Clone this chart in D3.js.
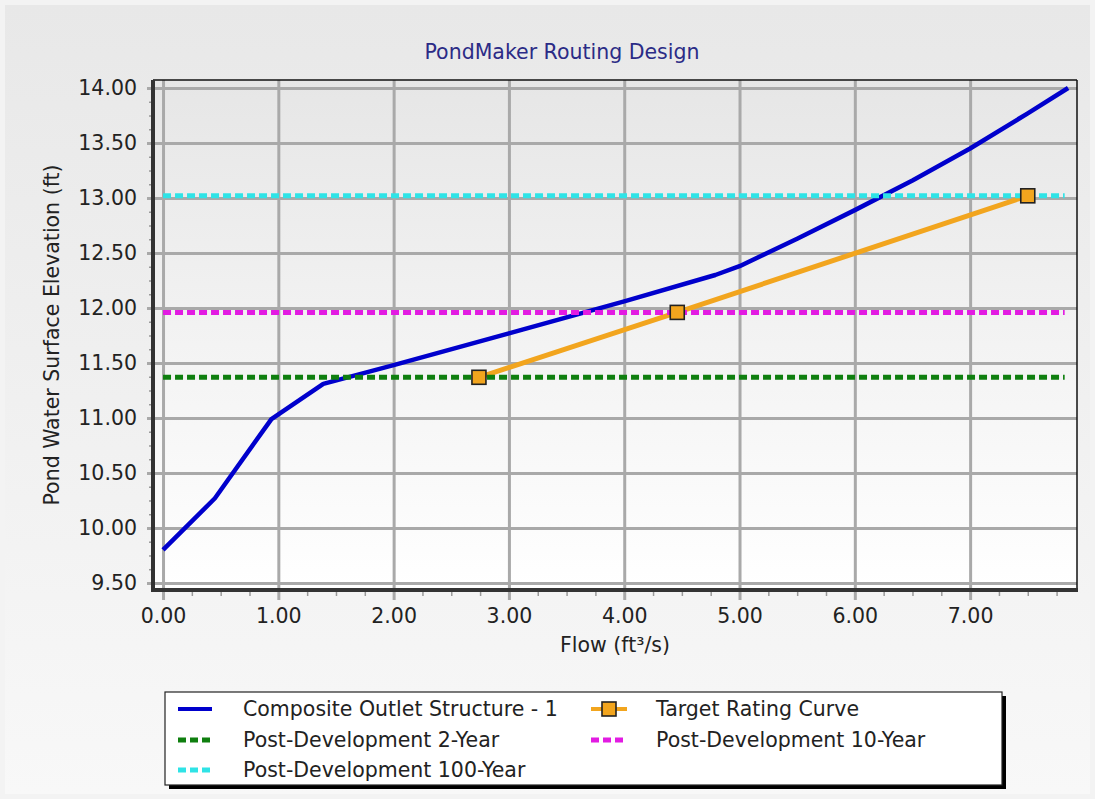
<!DOCTYPE html>
<html>
<head>
<meta charset="utf-8">
<script src="https://cdn.jsdelivr.net/npm/d3@7"></script>
<style>
  body { margin: 0; background: #f0f0f0; }
  svg text { font-family: "DejaVu Sans", Verdana, sans-serif; fill: #222; }
</style>
</head>
<body>
<svg id="chart" width="1095" height="799"></svg>
<script>
// Composite Outlet Structure - 1 (flow vs pond water surface elevation)
const compositeQ = [0.00, 0.45, 0.94, 1.39, 2.00, 3.00, 4.00, 4.79, 5.00, 5.50, 6.00, 6.50, 7.00, 7.50, 7.85];
const compositeWSE = [9.80, 10.27, 10.99, 11.31, 11.48, 11.77, 12.06, 12.30, 12.38, 12.63, 12.89, 13.16, 13.45, 13.77, 14.00];

// Target Rating Curve
const targetQ = [2.74, 4.46, 7.50];
const targetWSE = [11.37, 11.96, 13.02];

// Post-development design storm elevations
const stormNames = ['Post-Development 2-Year', 'Post-Development 10-Year', 'Post-Development 100-Year'];
const stormWSE = [11.37, 11.96, 13.02];
const stormQExtent = [0, 7.82];

// axis ticks
const xTicks = [0, 1, 2, 3, 4, 5, 6, 7];
const yTicks = [9.5, 10, 10.5, 11, 11.5, 12, 12.5, 13, 13.5, 14];

const svg = d3.select('#chart');
const W = 1095, H = 799;
const plot = { left: 153, right: 1077, top: 80, bottom: 590 };
const fontSize = '20.5px';

const palette = {
  composite: '#0000cc',
  target: '#f2a51e',
  storms: ['#0f7f0f', '#e21be2', '#2fe3e6'],
  grid: '#a9a9a9',
};

const x = d3.scaleLinear().domain([-0.087, 7.927]).range([plot.left, plot.right]);
const y = d3.scaleLinear().domain([9.436, 14.073]).range([plot.bottom, plot.top]);

// backgrounds
const defs = svg.append('defs');
const bg = defs.append('linearGradient').attr('id', 'bg').attr('x1', 0).attr('y1', 0).attr('x2', 0).attr('y2', 1);
bg.append('stop').attr('offset', 0).attr('stop-color', '#e8e8e8');
bg.append('stop').attr('offset', 1).attr('stop-color', '#f8f8f8');
const pbg = defs.append('linearGradient').attr('id', 'pbg').attr('x1', 0).attr('y1', 0).attr('x2', 0).attr('y2', 1);
pbg.append('stop').attr('offset', 0).attr('stop-color', '#e6e6e6');
pbg.append('stop').attr('offset', 1).attr('stop-color', '#ffffff');
defs.append('clipPath').attr('id', 'clip').append('rect')
  .attr('x', plot.left).attr('y', plot.top)
  .attr('width', plot.right - plot.left).attr('height', plot.bottom - plot.top);

svg.append('rect').attr('width', W).attr('height', H).attr('fill', '#f3f3f3');
svg.append('rect').attr('x', 5).attr('y', 5).attr('width', W - 10).attr('height', H - 10).attr('fill', 'url(#bg)');
svg.append('rect')
  .attr('x', plot.left).attr('y', plot.top)
  .attr('width', plot.right - plot.left).attr('height', plot.bottom - plot.top)
  .attr('fill', 'url(#pbg)');

// title
svg.append('text')
  .attr('x', 562).attr('y', 59)
  .attr('text-anchor', 'middle')
  .style('font-size', fontSize)
  .style('fill', '#2b2b86')
  .text('PondMaker Routing Design');

// grid + labels via axes
const fmt = d3.format('.2f');
const yAxis = d3.axisLeft(y).tickValues(yTicks).tickFormat(fmt)
  .tickSize(-(plot.right - 147)).tickPadding(10);
const gy = svg.append('g').attr('transform', 'translate(147,0)').call(yAxis);
const xAxis = d3.axisBottom(x).tickValues(xTicks).tickFormat(fmt)
  .tickSize(-(600 - plot.top)).tickPadding(8);
const gx = svg.append('g').attr('transform', 'translate(0,600)').call(xAxis);
[gx, gy].forEach((g) => {
  g.select('.domain').remove();
  g.selectAll('.tick line').attr('stroke', palette.grid).attr('stroke-width', 3);
  g.selectAll('.tick text').style('font-size', fontSize).attr('fill', '#222');
});

// minor ticks
const xMinor = d3.range(0, 7.9, 0.25).filter(v => !xTicks.includes(v));
const yMinor = d3.range(9.5, 14.01, 0.125).filter(v => !yTicks.includes(v));
svg.append('g').attr('transform', `translate(0,${plot.bottom})`)
  .call(d3.axisBottom(x).tickValues(xMinor).tickFormat('').tickSize(6))
  .call(g => g.select('.domain').remove())
  .selectAll('line').attr('stroke', '#999').attr('stroke-width', 1.5);
svg.append('g').attr('transform', `translate(${plot.left},0)`)
  .call(d3.axisLeft(y).tickValues(yMinor).tickFormat('').tickSize(4))
  .call(g => g.select('.domain').remove())
  .selectAll('line').attr('stroke', '#999').attr('stroke-width', 1.5);

// axis titles
svg.append('text')
  .attr('x', (plot.left + plot.right) / 2).attr('y', 652)
  .attr('text-anchor', 'middle').style('font-size', fontSize)
  .text('Flow (ft³/s)');
svg.append('text')
  .attr('transform', `translate(59,${(plot.top + plot.bottom) / 2}) rotate(-90)`)
  .attr('text-anchor', 'middle').style('font-size', fontSize)
  .text('Pond Water Surface Elevation (ft)');

// series
const series = svg.append('g').attr('clip-path', 'url(#clip)');
const line = d3.line().x(d => x(d[0])).y(d => y(d[1]));

series.append('path')
  .datum(compositeQ.map((q, i) => [q, compositeWSE[i]]))
  .attr('d', line).attr('fill', 'none')
  .attr('stroke', palette.composite).attr('stroke-width', 4.5).attr('stroke-linejoin', 'round');

series.append('path')
  .datum(targetQ.map((q, i) => [q, targetWSE[i]]))
  .attr('d', line).attr('fill', 'none')
  .attr('stroke', palette.target).attr('stroke-width', 5);

series.selectAll('line.storm')
  .data(stormWSE)
  .enter().append('line')
  .attr('class', 'storm')
  .attr('x1', x(stormQExtent[0])).attr('x2', x(stormQExtent[1]))
  .attr('y1', d => y(d)).attr('y2', d => y(d))
  .attr('stroke', (d, i) => palette.storms[i])
  .attr('stroke-width', 5).attr('stroke-dasharray', '8,4');

series.selectAll('rect.marker')
  .data(targetQ.map((q, i) => [q, targetWSE[i]]))
  .enter().append('rect')
  .attr('class', 'marker')
  .attr('x', d => x(d[0]) - 7).attr('y', d => y(d[1]) - 7)
  .attr('width', 14).attr('height', 14)
  .attr('fill', palette.target).attr('stroke', '#222').attr('stroke-width', 1.6);

// frame
svg.append('line').attr('x1', plot.left).attr('x2', plot.right).attr('y1', plot.top).attr('y2', plot.top)
  .attr('stroke', '#111').attr('stroke-width', 1.5);
svg.append('line').attr('x1', plot.right).attr('x2', plot.right).attr('y1', plot.top).attr('y2', plot.bottom)
  .attr('stroke', '#111').attr('stroke-width', 1.5);
svg.append('path')
  .attr('d', `M${plot.left},${plot.top}V${plot.bottom}H${plot.right + 1}`)
  .attr('fill', 'none').attr('stroke', '#333').attr('stroke-width', 4);

// legend
const lg = svg.append('g');
lg.append('rect').attr('x', 169).attr('y', 696).attr('width', 837).attr('height', 93).attr('fill', '#000');
lg.append('rect').attr('x', 165).attr('y', 692).attr('width', 837).attr('height', 93)
  .attr('fill', '#fff').attr('stroke', '#222').attr('stroke-width', 1.2);

const legendItems = [
  { name: 'Composite Outlet Structure - 1', kind: 'solid', color: palette.composite, col: 0, row: 0 },
  { name: 'Target Rating Curve', kind: 'marker', color: palette.target, col: 1, row: 0 },
  { name: stormNames[0], kind: 'dash', color: palette.storms[0], col: 0, row: 1 },
  { name: stormNames[1], kind: 'dash', color: palette.storms[1], col: 1, row: 1 },
  { name: stormNames[2], kind: 'dash', color: palette.storms[2], col: 0, row: 2 },
];
const colX = [178, 591];
const rowY = [709, 740, 770];
legendItems.forEach((it) => {
  const g = lg.append('g').attr('transform', `translate(${colX[it.col]},${rowY[it.row]})`);
  if (it.kind === 'solid') {
    g.append('line').attr('x1', 0).attr('x2', 34).attr('stroke', it.color).attr('stroke-width', 4);
  } else if (it.kind === 'dash') {
    g.append('line').attr('x1', 0).attr('x2', 34).attr('stroke', it.color)
      .attr('stroke-width', 5).attr('stroke-dasharray', '8,4');
  } else {
    g.append('line').attr('x1', 0).attr('x2', 36).attr('stroke', it.color).attr('stroke-width', 4);
    g.append('rect').attr('x', 11).attr('y', -7).attr('width', 14).attr('height', 14)
      .attr('fill', it.color).attr('stroke', '#222').attr('stroke-width', 1.6);
  }
  g.append('text').attr('x', 65).attr('y', 0).attr('dy', '0.35em')
    .style('font-size', fontSize).text(it.name);
});
</script>
</body>
</html>
